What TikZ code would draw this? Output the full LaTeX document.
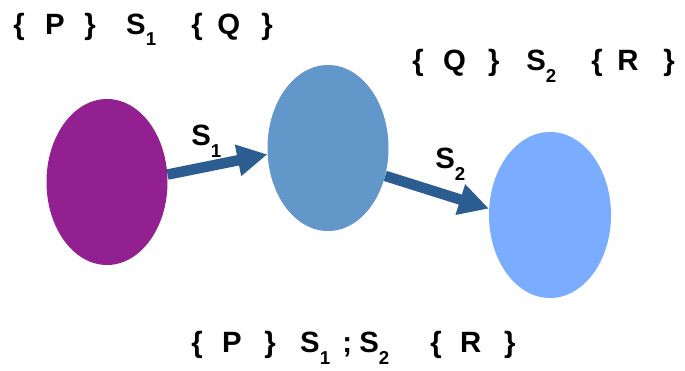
\documentclass[tikz,border=0pt]{standalone}
\usepackage{fontspec}
\setmainfont{Liberation Sans}
\usetikzlibrary{arrows.meta,shapes.geometric}
\definecolor{purp}{RGB}{146,32,144}
\definecolor{midblue}{RGB}{98,151,201}
\definecolor{lightblue}{RGB}{122,172,255}
\definecolor{arrowblue}{RGB}{44,93,145}
\newlength\pxu
\setlength\pxu{0.75pt}
\newcommand{\tsub}[1]{\raisebox{-9pt}{\fontsize{14}{16}\selectfont #1}}
\newcommand{\tk}[2]{\makebox[#1\pxu][l]{#2}}
\tikzset{
  blob/.style={ellipse, draw=none, minimum width=90.75pt, minimum height=124.5pt, inner sep=0pt},
  formula/.style={font=\bfseries\fontsize{22}{25}\selectfont, inner sep=0pt, anchor=base west},
  lbl/.style={font=\bfseries\fontsize{22}{25}\selectfont, inner sep=0pt, anchor=base west},
  flow/.style={draw=arrowblue, line width=7.9pt, -{Triangle[length=22.5pt,width=22.5pt]}, arrowblue}
}
\begin{document}
\begin{tikzpicture}[x=0.75pt,y=-0.75pt]
\useasboundingbox (0,0) rectangle (685,371);
\fill[white] (0,0) rectangle (685,371);
\node[blob, fill=purp] (e1) at (107,182) {};
\node[blob, fill=midblue] (e2) at (328,148) {};
\node[blob, fill=lightblue, minimum width=91.5pt] (e3) at (550,215) {};
\draw[flow] (e1.7) -- (e2.186);
\draw[flow] (e2.-26) -- (e3.174);
\node[lbl] (l1) at (191,145) {S\tsub{1}};
\node[lbl] (l2) at (435,168) {S\tsub{2}};
\node[formula] (f1) at (13,34) {\tk{32}{\{}\tk{39}{P}\tk{42}{\}}\tk{65}{S\tsub{1}}\tk{26}{\{}\tk{44}{Q}\}};
\node[formula] (f2) at (412,70) {\tk{31}{\{}\tk{45}{Q}\tk{38}{\}}\tk{65}{S\tsub{2}}\tk{26}{\{}\tk{46}{R}\}};
\node[formula] (f3) at (191,352) {\tk{31}{\{}\tk{42}{P}\tk{36}{\}}\tk{42}{S\tsub{1}}\tk{17}{;}\tk{71}{S\tsub{2}}\tk{30}{\{}\tk{44}{R}\}};
\end{tikzpicture}
\end{document}
